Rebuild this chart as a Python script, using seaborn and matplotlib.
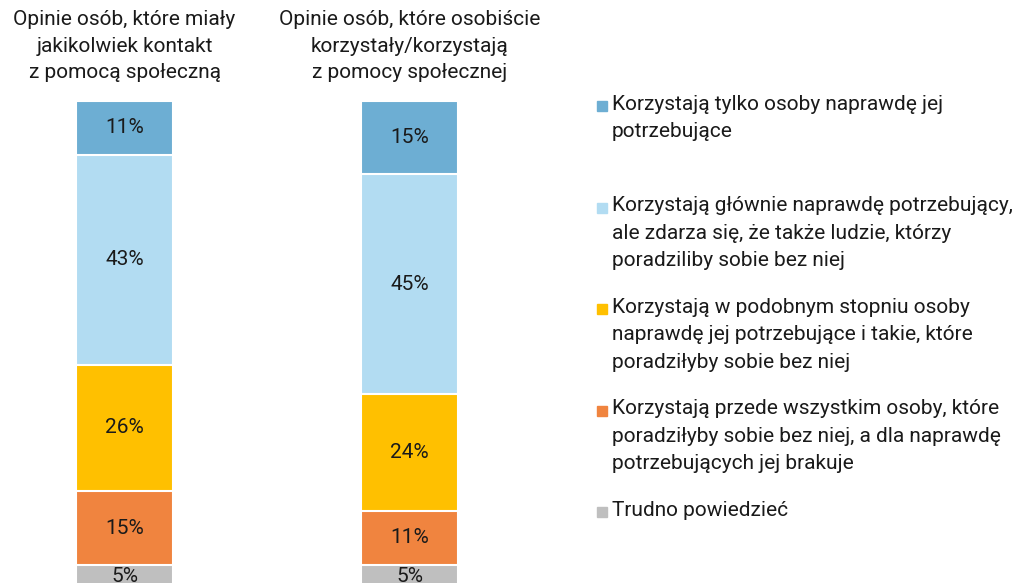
import matplotlib
matplotlib.use("Agg")
import matplotlib.pyplot as plt
import seaborn as sns
import pandas as pd
from matplotlib.patches import Rectangle

# data
groups = [
    "Opinie osób, które miały\njakikolwiek kontakt\nz pomocą społeczną",
    "Opinie osób, które osobiście\nkorzystały/korzystają\nz pomocy społecznej",
]
answers = [
    "Korzystają tylko osoby naprawdę jej\npotrzebujące",
    "Korzystają głównie naprawdę potrzebujący,\nale zdarza się, że także ludzie, którzy\nporadziliby sobie bez niej",
    "Korzystają w podobnym stopniu osoby\nnaprawdę jej potrzebujące i takie, które\nporadziłyby sobie bez niej",
    "Korzystają przede wszystkim osoby, które\nporadziłyby sobie bez niej, a dla naprawdę\npotrzebujących jej brakuje",
    "Trudno powiedzieć",
]
contact_pct = [11, 43, 26, 15, 5]
users_pct = [15, 45, 24, 11, 5]
colors = ["#6DAED3", "#B2DCF2", "#FFC000", "#F0843F", "#BFBFBF"]

sns.set_theme(style="white")
plt.rcParams["font.family"] = ["Roboto", "DejaVu Sans"]
FS = 15
TXT = "#1a1a1a"

df = pd.DataFrame({"group": groups * len(answers),
                   "answer": [a for a in answers for _ in groups],
                   "pct": [v for pair in zip(contact_pct, users_pct) for v in pair]})
df["answer"] = pd.Categorical(df["answer"], answers, ordered=True)
df = df.sort_values(["group", "answer"])
df["cum"] = df.groupby("group")["pct"].cumsum()
df["mid"] = df["cum"] - df["pct"] / 2

fig = plt.figure(figsize=(10.24, 5.83), dpi=100)
ax = fig.add_axes([40 / 1024, -6 / 583, 440 / 1024, 488 / 583])

# stacked from the top: draw longest cumulative bar first
for ans, col in reversed(list(zip(answers, colors))):
    sub = df[df["answer"] == ans]
    sns.barplot(data=sub, x="group", y="cum", order=groups, color=col,
                saturation=1, width=0.34, edgecolor="white", linewidth=1.5, ax=ax)

for _, r in df.iterrows():
    ax.text(groups.index(r["group"]), r["mid"], f"{r['pct']}%",
            ha="center", va="center", fontsize=FS, color=TXT)

for i, g in enumerate(groups):
    ax.text(i, -3.8, g, ha="center", va="bottom", fontsize=FS,
            color=TXT, linespacing=1.5, clip_on=False)

ax.set_ylim(100, 0)
ax.set_xlim(-0.2965, 1.2474)
ax.set_axis_off()

# legend drawn by hand to keep the original spacing
top_px = 95
for k, (ans, col) in enumerate(zip(answers, colors)):
    t = top_px + k * 101.5
    fig.patches.append(Rectangle((597 / 1024, 1 - (t + 16) / 583), 10 / 1024, 10 / 583,
                                 transform=fig.transFigure, color=col))
    fig.text(612 / 1024, 1 - t / 583, ans, ha="left", va="top", fontsize=FS,
             color=TXT, linespacing=1.55)

fig.savefig("out.png", dpi=100)
